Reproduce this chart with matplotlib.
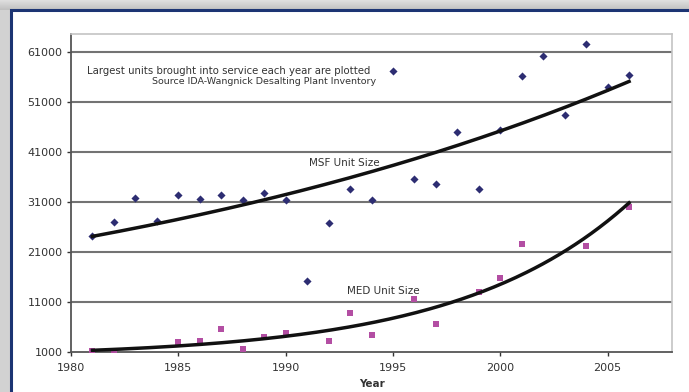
import numpy as np
import matplotlib
matplotlib.use("Agg")
import matplotlib.pyplot as plt
from matplotlib.patches import Rectangle

# Largest unit commissioned per year (m3/d)
msf_years = [1981, 1982, 1983, 1984, 1985, 1986, 1987, 1988, 1989, 1990, 1991, 1992,
             1993, 1994, 1995, 1996, 1997, 1998, 1999, 2000, 2001, 2002, 2003, 2004,
             2005, 2006]
msf_size = [24200, 27100, 31800, 27200, 32400, 31600, 32400, 31400, 32900, 31400, 15300,
            26900, 33600, 31400, 57300, 35700, 34600, 45000, 33700, 45400, 56300, 60200,
            48500, 62700, 54100, 56500]

med_years = [1981, 1982, 1985, 1986, 1987, 1988, 1989, 1990, 1992, 1993, 1994, 1996,
             1997, 1999, 2000, 2001, 2004, 2006]
med_size = [1260, 1060, 3000, 3260, 5600, 1660, 4060, 4800, 3260, 8740, 4330, 11600,
            6540, 13060, 15740, 22600, 22260, 29940]

x_ticks = [1980, 1985, 1990, 1995, 2000, 2005]
y_ticks = [1000, 11000, 21000, 31000, 41000, 51000, 61000]

W, H = 689, 392
fig = plt.figure(figsize=(W / 100, H / 100), dpi=100)
fig.patch.set_facecolor("#d2d2d2")

# soft shading above the card
for i in range(10):
    g = 0.87 - 0.013 * i
    fig.patches.append(Rectangle((0, 1 - (i + 1) / H), 1, 1 / H, transform=fig.transFigure,
                                 facecolor=(g, g, g), edgecolor="none", zorder=-3))
# white card with navy border
fig.patches.append(Rectangle((11 / W, -0.1), 1.2, 1.1 - 10 / H, transform=fig.transFigure,
                             facecolor="white", edgecolor="#1c3473", linewidth=2.2,
                             zorder=-2))

ax = fig.add_axes([71 / W, (H - 352) / H, (672 - 71) / W, (352 - 34) / H])
ax.set_facecolor("white")

ax.set_xlim(1980, 2008)
ax.set_ylim(1000, 64600)

for v in y_ticks[1:]:
    ax.axhline(v, color="#737373", linewidth=1.5, zorder=1)

ax.scatter(msf_years, msf_size, marker="D", s=17, color="#2d2d72", zorder=3, linewidths=0)
ax.scatter(med_years, med_size, marker="s", s=24, color="#b34ea3", zorder=3, linewidths=0)

# exponential trendlines (least squares on log values)
for yrs, vals in [(msf_years, msf_size), (med_years, med_size)]:
    b, a = np.polyfit(yrs, np.log(vals), 1)
    xs = np.linspace(min(yrs), max(yrs), 200)
    ax.plot(xs, np.exp(a + b * xs), color="#111111", linewidth=2.5, zorder=4)

ax.set_xticks(x_ticks)
ax.set_yticks(y_ticks)
ax.tick_params(axis="both", labelsize=8, colors="#333333", length=3, width=1,
               direction="out", pad=3)
ax.tick_params(axis="x", pad=5)

for side in ["top", "right"]:
    ax.spines[side].set_color("#c4c4c4")
    ax.spines[side].set_linewidth(1.2)
for side in ["left", "bottom"]:
    ax.spines[side].set_color("#555555")
    ax.spines[side].set_linewidth(1.3)

ax.set_xlabel("Year", fontsize=7.5, fontweight="bold", color="#333333")
ax.xaxis.set_label_coords((372 - 71) / (672 - 71), -0.085)

ax.text(1980.75, 57200, "Largest units brought into service each year are plotted",
        fontsize=7.3, color="#333333", ha="left", va="center")
ax.text(1994.2, 55000, "Source IDA-Wangnick Desalting Plant Inventory",
        fontsize=6.8, color="#333333", ha="right", va="center")
ax.text(1991.1, 38800, "MSF Unit Size", fontsize=7.5, color="#333333", ha="left",
        va="center")
ax.text(1992.85, 13200, "MED Unit Size", fontsize=7.5, color="#333333", ha="left",
        va="center")

fig.savefig("out.png", dpi=100)
